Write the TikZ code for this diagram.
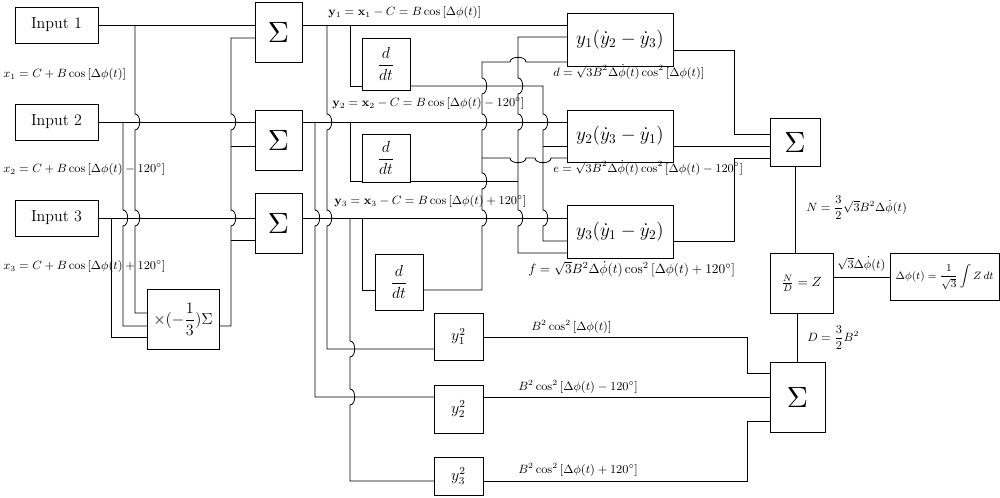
\documentclass[tikz,border=0pt]{standalone}
\usepackage{amsmath}
\usetikzlibrary{positioning}
\tikzset{
  blk/.style 2 args={draw,line width=0.6pt,inner sep=0pt,
    minimum width=#1*0.75pt,minimum height=#2*0.75pt},
  wire/.style={line width=0.6pt},
  lbl/.style={anchor=west,inner sep=0pt,font=\small},
  hop/.style 2 args={insert path={-- (#1,#2-8) to[out=0,in=0] (#1,#2+8)}},
  hhl/.style 2 args={insert path={-- (#1+8,#2) to[out=90,in=90] (#1-8,#2)}},
  hhr/.style 2 args={insert path={-- (#1-8,#2) to[out=-90,in=-90] (#1+8,#2)}},
}
\newcommand{\bigsum}{\scalebox{2.2}{$\Sigma$}}
\begin{document}
\begin{tikzpicture}[x=0.75pt,y=-0.75pt]
\useasboundingbox (0,0) rectangle (1000,498);

% blocks
\node[blk={83}{36},font=\large] (in1) at (56.5,25) {Input 1};
\node[blk={83}{36},font=\large] (in2) at (56.5,122) {Input 2};
\node[blk={83}{36},font=\large] (in3) at (56.5,218) {Input 3};
\node[blk={47}{60}] (s1) at (278.5,32) {\bigsum};
\node[blk={47}{60}] (s2) at (278.5,140) {\bigsum};
\node[blk={47}{60}] (s3) at (278.5,223) {\bigsum};
\node[blk={72}{60}] (mul) at (183,319) {\large$\times(-\dfrac{1}{3})\Sigma$};
\node[blk={48}{52},font=\large] (dd1) at (386,64) {$\dfrac{d}{dt}$};
\node[blk={48}{48},font=\large] (dd2) at (386,158) {$\dfrac{d}{dt}$};
\node[blk={48}{56},font=\large] (dd3) at (399,282) {$\dfrac{d}{dt}$};
\node[blk={106}{53}] (p1) at (620,39.5) {\Large$y_1(\dot y_2-\dot y_3)$};
\node[blk={106}{52}] (p2) at (620,136) {\Large$y_2(\dot y_3-\dot y_1)$};
\node[blk={106}{53}] (p3) at (620,231.5) {\Large$y_3(\dot y_1-\dot y_2)$};
\node[blk={50}{48}] (s4) at (795,142) {\bigsum};
\node[blk={63}{60}] (nd) at (801.5,283) {$\frac{N}{D}=Z$};
\node[blk={109}{47}] (int) at (944.5,277) {\footnotesize$\Delta\phi(t)=\dfrac{1}{\sqrt{3}}\displaystyle\int Z\,dt$};
\node[blk={55}{70}] (s5) at (797.5,397) {\bigsum};
\node[blk={49}{47},font=\large] (q1) at (458.5,336.5) {$y_1^2$};
\node[blk={49}{48},font=\large] (q2) at (458.5,409) {$y_2^2$};
\node[blk={49}{38},font=\large] (q3) at (458.5,476) {$y_3^2$};

% inputs to the sums and to the mean
\draw[wire] (in1.east) -- (s1.west |- in1.east);
\draw[wire] (in2.east) -- (s2.west |- in2.east);
\draw[wire] (in3.east) -- (s3.west |- in3.east);
\draw[wire] (135,25) [hop={135}{122}] [hop={135}{218}] -- (135,313) -- (147,313);
\draw[wire] (123,122) [hop={123}{218}] -- (123,326) -- (147,326);
\draw[wire] (111,218) -- (111,337) -- (147,337);
\draw[wire] (255,38) -- (231,38) [hop={231}{122}] [hop={231}{218}] -- (231,326) -- (mul.east |- 0,326);
\draw[wire] (231,146) -- (255,146);
\draw[wire] (231,240) -- (255,240);

% y1, y2, y3
\draw[wire] (302,25) -- (567,25);
\draw[wire] (302,122) -- (567,122);
\draw[wire] (302,218) -- (567,218);
\draw[wire] (350,25) -- (350,86) -- (362,86);
\draw[wire] (350,122) -- (350,181) -- (362,181);
\draw[wire] (362,218) -- (362,290) -- (375,290);
\draw[wire] (327,25) [hop={327}{122}] [hop={327}{218}] -- (327,349) -- (434,349);
\draw[wire] (315,122) [hop={315}{218}] -- (315,397) -- (434,397);
\draw[wire] (350,218) [hop={350}{349}] [hop={350}{397}] -- (350,481) -- (434,481);

% derivatives to the products
\draw[wire] (410,86) -- (543,86) [hop={543}{122}] [hop={543}{218}] -- (543,241) -- (567,241);
\draw[wire] (543,146) -- (567,146);
\draw[wire] (410,181) -- (518,181);
\draw[wire] (567,37) -- (518,37) [hop={518}{86}] [hop={518}{122}] [hop={518}{218}] -- (518,253) -- (567,253);
\draw[wire] (567,62) [hhl={518}{62}] -- (482,62) [hop={482}{86}] [hop={482}{122}] [hop={482}{181}] [hop={482}{218}] -- (482,290) -- (423,290);
\draw[wire] (482,158) [hhr={518}{158}] [hhr={543}{158}] -- (567,158);

% products to the sum
\draw[wire] (673,50) -- (734,50) -- (734,134) -- (770,134);
\draw[wire] (673,146) -- (770,146);
\draw[wire] (673,241) -- (734,241) -- (734,158) -- (770,158);
\draw[wire] (s4.south) -- (s4.south |- nd.north);
\draw[wire] (s5.north) -- (s5.north |- nd.south);
\draw[wire] (int.west -| nd.east) -- (int.west);

% squares to the sum
\draw[wire] (483,337) -- (747,337) -- (747,373) -- (770,373);
\draw[wire] (483,397) -- (770,397);
\draw[wire] (483,481) -- (747,481) -- (747,421) -- (770,421);

% labels
\node[lbl] (lx1) at (3,75) {$x_1=C+B\cos\left[\Delta\phi(t)\right]$};
\node[lbl] (lx2) at (3,170) {$x_2=C+B\cos\left[\Delta\phi(t)-120^\circ\right]$};
\node[lbl] (lx3) at (3,267) {$x_3=C+B\cos\left[\Delta\phi(t)+120^\circ\right]$};
\node[lbl] (ly1) at (328,13) {$\mathbf{y}_1=\mathbf{x}_1-C=B\cos\left[\Delta\phi(t)\right]$};
\node[lbl] (ly2) at (332,104) {$\mathbf{y}_2=\mathbf{x}_2-C=B\cos\left[\Delta\phi(t)-120^\circ\right]$};
\node[lbl] (ly3) at (334,202) {$\mathbf{y}_3=\mathbf{x}_3-C=B\cos\left[\Delta\phi(t)+120^\circ\right]$};
\node[lbl] (ld) at (553,72) {$d=\sqrt{3}B^2\Delta\dot\phi(t)\cos^2\left[\Delta\phi(t)\right]$};
\node[lbl] (le) at (553,168) {$e=\sqrt{3}B^2\Delta\dot\phi(t)\cos^2\left[\Delta\phi(t)-120^\circ\right]$};
\node[lbl,font=\normalsize] (lf) at (528,269) {$f=\sqrt{3}B^2\Delta\dot\phi(t)\cos^2\left[\Delta\phi(t)+120^\circ\right]$};
\node[lbl] (lN) at (806,208) {$N=\dfrac{3}{2}\sqrt{3}B^2\Delta\dot\phi(t)$};
\node[lbl] (lz) at (837,264) {$\sqrt{3}\Delta\dot\phi(t)$};
\node[lbl] (lD) at (807,338) {$D=\dfrac{3}{2}B^2$};
\node[lbl] (lq1) at (531,327) {$B^2\cos^2\left[\Delta\phi(t)\right]$};
\node[lbl] (lq2) at (518,387) {$B^2\cos^2\left[\Delta\phi(t)-120^\circ\right]$};
\node[lbl] (lq3) at (518,470) {$B^2\cos^2\left[\Delta\phi(t)+120^\circ\right]$};
\end{tikzpicture}
\end{document}
